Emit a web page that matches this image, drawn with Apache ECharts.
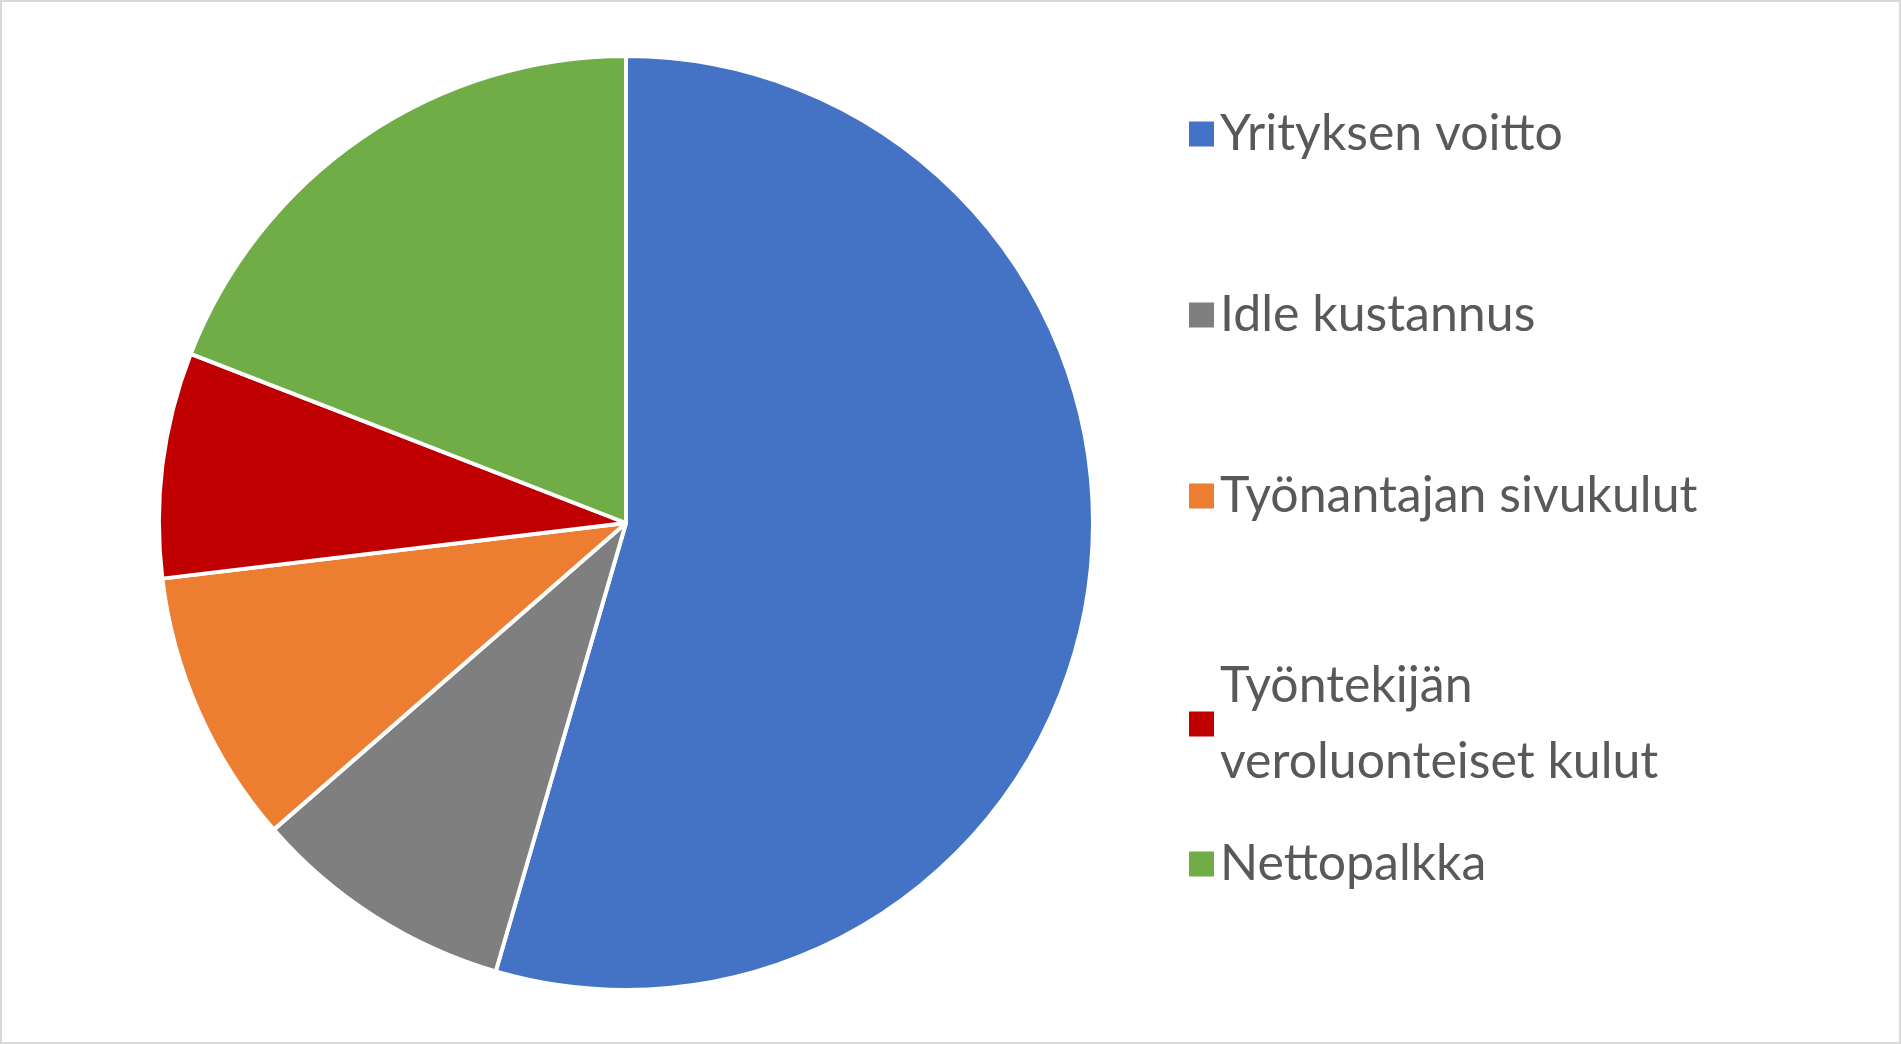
<!DOCTYPE html>
<html><head><meta charset="utf-8">
<script src="https://cdn.jsdelivr.net/npm/echarts@6/dist/echarts.min.js"></script>
<style>html,body{margin:0;padding:0;background:#fff}#c{width:1901px;height:1044px;box-sizing:border-box;border:2px solid #d9d9d9}</style>
</head><body><div id="c"></div>
<script>
const categories = ["Yrityksen voitto","Idle kustannus","Työnantajan sivukulut","Työntekijän\nveroluonteiset kulut","Nettopalkka"];
const values = [54.5, 9.1, 9.5, 7.8, 19.1];
const colors = ["#4472C4","#7F7F7F","#ED7D31","#C00000","#70AD47"];
const legendTops = [89, 270, 451, 641, 819];
const chart = echarts.init(document.getElementById('c'));
chart.setOption({
  animation:false,
  color: colors,
  legend: categories.map((n,i)=>({
    data:[n], orient:'vertical', left:1180, top:legendTops[i],
    icon:'rect', itemWidth:27, itemHeight:27, itemGap:10, selectedMode:false,
    textStyle:{fontFamily:'Lato', fontSize:50, color:'#595959', lineHeight:76}
  })),
  series:[{
    type:'pie', center:[624,521], radius:467, startAngle:90, clockwise:true,
    label:{show:false}, labelLine:{show:false},
    itemStyle:{borderColor:'#fff', borderWidth:4},
    data: categories.map((n,i)=>({name:n, value:values[i]}))
  }]
});
</script></body></html>
